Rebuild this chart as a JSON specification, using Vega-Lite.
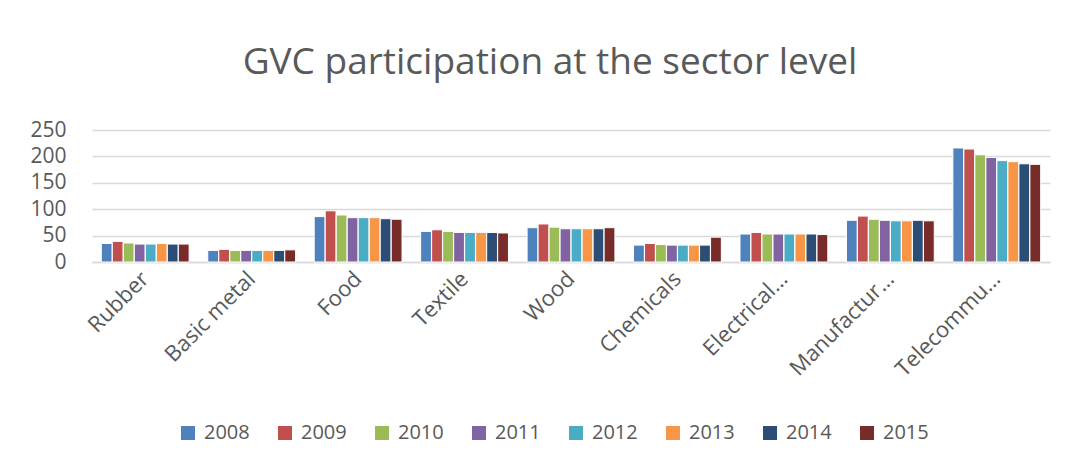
{
  "$schema": "https://vega.github.io/schema/vega-lite/v6.json",
  "width": 958,
  "height": 132,
  "autosize": {"type": "none"},
  "padding": {"left": 92, "top": 130, "right": 28, "bottom": 207},
  "background": "white",
  "title": {
    "text": "GVC participation at the sector level",
    "fontSize": 37,
    "font": "Open Sans",
    "fontWeight": "normal",
    "color": "#595959",
    "baseline": "alphabetic",
    "offset": 8,
    "dx": -21
  },
  "data": {
    "values": [
      {"sector": "Rubber", "year": "2008", "value": 35},
      {"sector": "Rubber", "year": "2009", "value": 39},
      {"sector": "Rubber", "year": "2010", "value": 36},
      {"sector": "Rubber", "year": "2011", "value": 34},
      {"sector": "Rubber", "year": "2012", "value": 34},
      {"sector": "Rubber", "year": "2013", "value": 35},
      {"sector": "Rubber", "year": "2014", "value": 34},
      {"sector": "Rubber", "year": "2015", "value": 34},
      {"sector": "Basic metal", "year": "2008", "value": 22},
      {"sector": "Basic metal", "year": "2009", "value": 24},
      {"sector": "Basic metal", "year": "2010", "value": 22},
      {"sector": "Basic metal", "year": "2011", "value": 22},
      {"sector": "Basic metal", "year": "2012", "value": 22},
      {"sector": "Basic metal", "year": "2013", "value": 22},
      {"sector": "Basic metal", "year": "2014", "value": 22},
      {"sector": "Basic metal", "year": "2015", "value": 23},
      {"sector": "Food", "year": "2008", "value": 86},
      {"sector": "Food", "year": "2009", "value": 97},
      {"sector": "Food", "year": "2010", "value": 89},
      {"sector": "Food", "year": "2011", "value": 84},
      {"sector": "Food", "year": "2012", "value": 84},
      {"sector": "Food", "year": "2013", "value": 84},
      {"sector": "Food", "year": "2014", "value": 82},
      {"sector": "Food", "year": "2015", "value": 81},
      {"sector": "Textile", "year": "2008", "value": 58},
      {"sector": "Textile", "year": "2009", "value": 61},
      {"sector": "Textile", "year": "2010", "value": 58},
      {"sector": "Textile", "year": "2011", "value": 56},
      {"sector": "Textile", "year": "2012", "value": 56},
      {"sector": "Textile", "year": "2013", "value": 56},
      {"sector": "Textile", "year": "2014", "value": 56},
      {"sector": "Textile", "year": "2015", "value": 55},
      {"sector": "Wood", "year": "2008", "value": 65},
      {"sector": "Wood", "year": "2009", "value": 72},
      {"sector": "Wood", "year": "2010", "value": 66},
      {"sector": "Wood", "year": "2011", "value": 63},
      {"sector": "Wood", "year": "2012", "value": 63},
      {"sector": "Wood", "year": "2013", "value": 63},
      {"sector": "Wood", "year": "2014", "value": 63},
      {"sector": "Wood", "year": "2015", "value": 65},
      {"sector": "Chemicals", "year": "2008", "value": 32},
      {"sector": "Chemicals", "year": "2009", "value": 35},
      {"sector": "Chemicals", "year": "2010", "value": 33},
      {"sector": "Chemicals", "year": "2011", "value": 32},
      {"sector": "Chemicals", "year": "2012", "value": 32},
      {"sector": "Chemicals", "year": "2013", "value": 32},
      {"sector": "Chemicals", "year": "2014", "value": 32},
      {"sector": "Chemicals", "year": "2015", "value": 47},
      {"sector": "Electrical…", "year": "2008", "value": 53},
      {"sector": "Electrical…", "year": "2009", "value": 56},
      {"sector": "Electrical…", "year": "2010", "value": 53},
      {"sector": "Electrical…", "year": "2011", "value": 53},
      {"sector": "Electrical…", "year": "2012", "value": 53},
      {"sector": "Electrical…", "year": "2013", "value": 53},
      {"sector": "Electrical…", "year": "2014", "value": 53},
      {"sector": "Electrical…", "year": "2015", "value": 52},
      {"sector": "Manufactur…", "year": "2008", "value": 79},
      {"sector": "Manufactur…", "year": "2009", "value": 87},
      {"sector": "Manufactur…", "year": "2010", "value": 81},
      {"sector": "Manufactur…", "year": "2011", "value": 79},
      {"sector": "Manufactur…", "year": "2012", "value": 78},
      {"sector": "Manufactur…", "year": "2013", "value": 78},
      {"sector": "Manufactur…", "year": "2014", "value": 79},
      {"sector": "Manufactur…", "year": "2015", "value": 78},
      {"sector": "Telecommu…", "year": "2008", "value": 216},
      {"sector": "Telecommu…", "year": "2009", "value": 214},
      {"sector": "Telecommu…", "year": "2010", "value": 203},
      {"sector": "Telecommu…", "year": "2011", "value": 198},
      {"sector": "Telecommu…", "year": "2012", "value": 192},
      {"sector": "Telecommu…", "year": "2013", "value": 190},
      {"sector": "Telecommu…", "year": "2014", "value": 186},
      {"sector": "Telecommu…", "year": "2015", "value": 185}
    ]
  },
  "mark": {"type": "bar", "stroke": "white", "strokeWidth": 1},
  "encoding": {
    "x": {
      "field": "sector",
      "type": "nominal",
      "sort": null,
      "scale": {"paddingInner": 0.175, "paddingOuter": 0.0875},
      "axis": {
        "title": null,
        "labelAngle": -45,
        "labelAlign": "right",
        "labelBaseline": "middle",
        "labelFontSize": 22,
        "labelFont": "Open Sans",
        "labelColor": "#595959",
        "labelPadding": 13,
        "ticks": false,
        "domainColor": "#D9D9D9",
        "domainWidth": 1.5,
        "labelLimit": 300
      }
    },
    "xOffset": {"field": "year", "type": "nominal", "scale": {"paddingInner": 0.02}},
    "y": {
      "field": "value",
      "type": "quantitative",
      "scale": {"domain": [0, 250]},
      "axis": {
        "title": null,
        "values": [0, 50, 100, 150, 200, 250],
        "domain": false,
        "ticks": false,
        "labelFontSize": 21,
        "labelFont": "Open Sans",
        "labelColor": "#595959",
        "labelPadding": 26,
        "gridColor": "#D9D9D9",
        "gridWidth": 1.5
      }
    },
    "color": {
      "field": "year",
      "type": "nominal",
      "scale": {
        "range": ["#4F81BD", "#C0504D", "#9BBB59", "#8064A2", "#4BACC6", "#F79646", "#2C4D75", "#772C2A"]
      },
      "legend": {
        "title": null,
        "orient": "none",
        "direction": "horizontal",
        "legendX": 86,
        "legendY": 293,
        "symbolType": "square",
        "symbolSize": 196,
        "symbolStrokeWidth": 0,
        "symbolOpacity": 1,
        "labelFontSize": 20,
        "labelFont": "Open Sans",
        "labelColor": "#595959",
        "labelOffset": 6,
        "columnPadding": 25
      }
    }
  },
  "config": {"view": {"stroke": null}}
}
